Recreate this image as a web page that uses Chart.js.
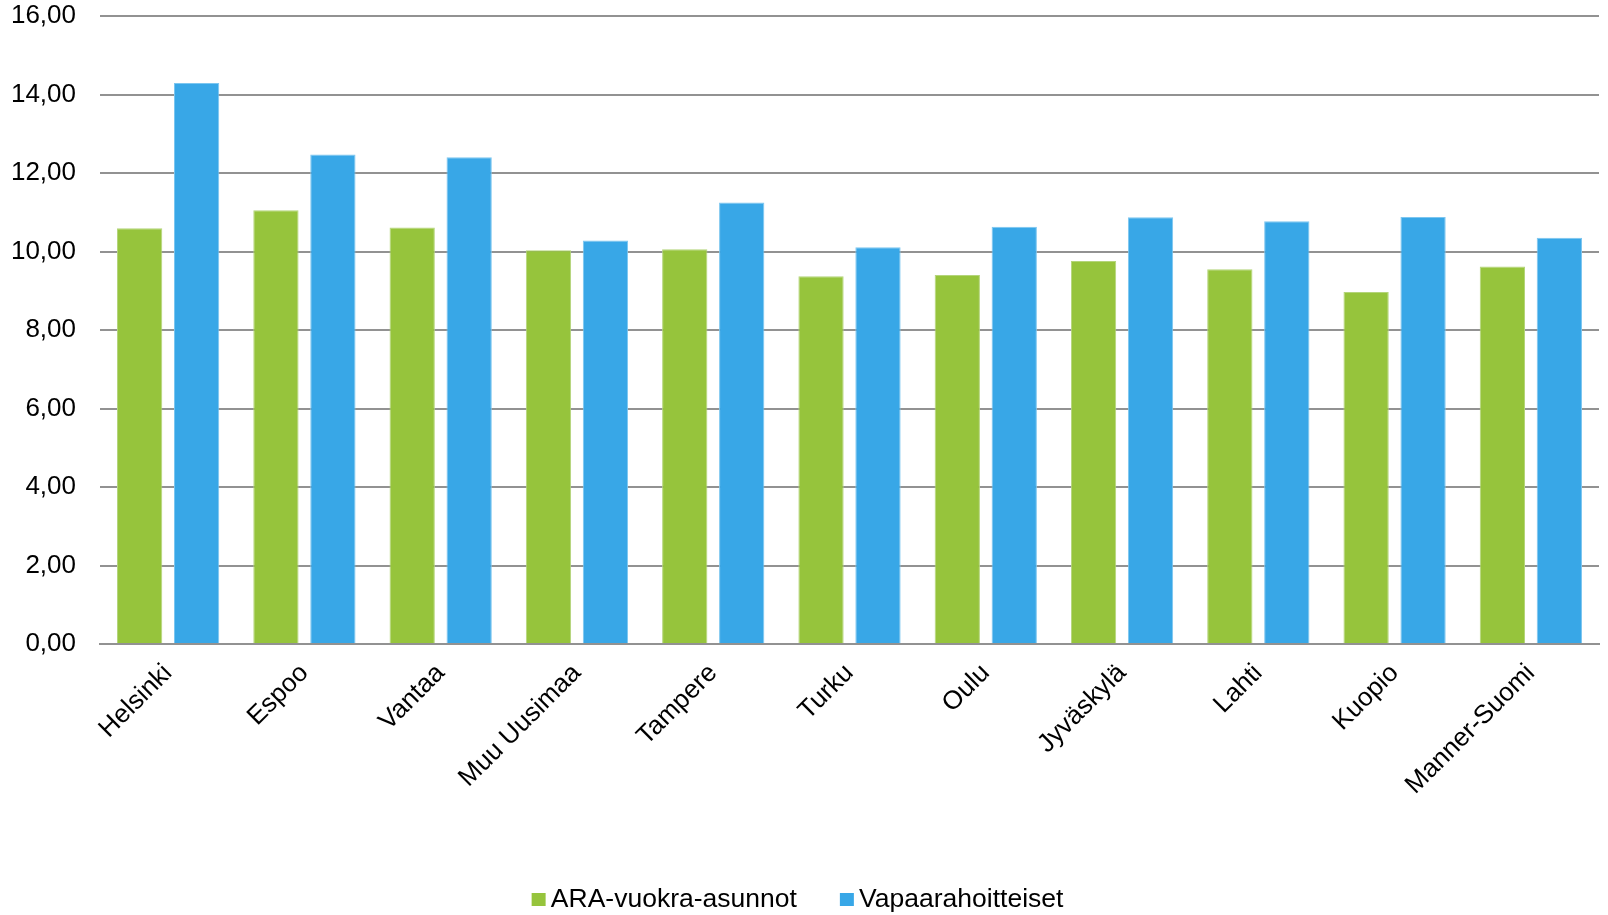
<!DOCTYPE html>
<html lang="fi">
<head>
<meta charset="utf-8">
<title>Vuokrat</title>
<script src="https://cdn.jsdelivr.net/npm/chart.js@4/dist/chart.umd.min.js"></script>
<style>
  html, body { margin: 0; padding: 0; background: #fff; }
  #wrap { width: 1608px; height: 915px; position: relative; }
</style>
</head>
<body>
<div id="wrap"><canvas id="grafico"></canvas></div>
<script>
// Alueet ja keskivuokrat (€/m²/kk)
const alueet = ["Helsinki", "Espoo", "Vantaa", "Muu Uusimaa", "Tampere", "Turku",
  "Oulu", "Jyväskylä", "Lahti", "Kuopio", "Manner-Suomi"];
const araVuokrat = [10.59, 11.05, 10.61, 10.03, 10.06, 9.37, 9.40, 9.76, 9.55, 8.97, 9.62];
const vapaatVuokrat = [14.29, 12.47, 12.40, 10.28, 11.25, 10.11, 10.63, 10.87, 10.77, 10.88, 10.35];
const sarjat = ["ARA-vuokra-asunnot", "Vapaarahoitteiset"];
const varit = ["#96C43C", "#38A7E7"];
const yMax = 16;
const yAskel = 2;

const fontti = '"Liberation Sans", Arial, sans-serif';

// selitteen pieni neliö: piirretään kuvan oikeaan puoliskoon,
// jolloin neliön ja tekstin väli jää kapeaksi
function selitePala(vari) {
  const c = document.createElement("canvas");
  c.width = 28;
  c.height = 13;
  const g = c.getContext("2d");
  g.fillStyle = vari;
  g.fillRect(13, 0, 14, 13);
  return c;
}

// siirtää selitettä hieman vasemmalle ja alas
const selitteenSiirto = {
  id: "selitteenSiirto",
  afterLayout(chart) {
    const lg = chart.legend;
    if (!lg) return;
    lg.left -= 4; lg.right -= 4;
    lg.top += 8; lg.bottom += 8;
  }
};

const ctx = document.getElementById("grafico").getContext("2d");
new Chart(ctx, {
  type: "bar",
  data: {
    labels: alueet,
    datasets: [{
      label: sarjat[0],
      data: araVuokrat,
      backgroundColor: varit[0],
      borderColor: "#B4D57A",
      borderWidth: 1,
      pointStyle: selitePala(varit[0])
    }, {
      label: sarjat[1],
      data: vapaatVuokrat,
      backgroundColor: varit[1],
      borderColor: "#7CC6F0",
      borderWidth: 1,
      pointStyle: selitePala(varit[1])
    }]
  },
  options: {
    responsive: true,
    maintainAspectRatio: false,
    animation: false,
    categoryPercentage: 0.836,
    barPercentage: 0.795,
    layout: { padding: { top: 16, right: 9, bottom: 0, left: 0 } },
    plugins: {
      tooltip: { enabled: false },
      legend: {
        position: "bottom",
        labels: {
          font: { family: fontti, size: 26.5 },
          color: "#000",
          usePointStyle: true,
          pointStyleWidth: 10,
          boxHeight: 13,
          padding: 39
        }
      }
    },
    scales: {
      x: {
        grid: { display: false, drawTicks: false },
        border: { display: true, color: "#929292", width: 2 },
        ticks: {
          font: { family: fontti, size: 26 },
          color: "#000",
          maxRotation: 45,
          minRotation: 45,
          padding: 14,
          autoSkip: false
        },
        afterFit(scale) {
          scale.height = scale.chart.height - 644 - scale.chart.legend.height;
        }
      },
      y: {
        min: 0,
        max: yMax,
        grid: { color: "#929292", lineWidth: 2, drawTicks: false },
        border: { display: false },
        ticks: {
          stepSize: yAskel,
          font: { family: fontti, size: 26 },
          color: "#000",
          padding: 24,
          callback: v => v.toFixed(2).replace(".", ",")
        },
        afterFit(scale) {
          scale.width = 100;
          scale.paddingTop = 0;
          scale.paddingBottom = 0;
        }
      }
    }
  },
  plugins: [selitteenSiirto]
});
</script>
</body>
</html>
